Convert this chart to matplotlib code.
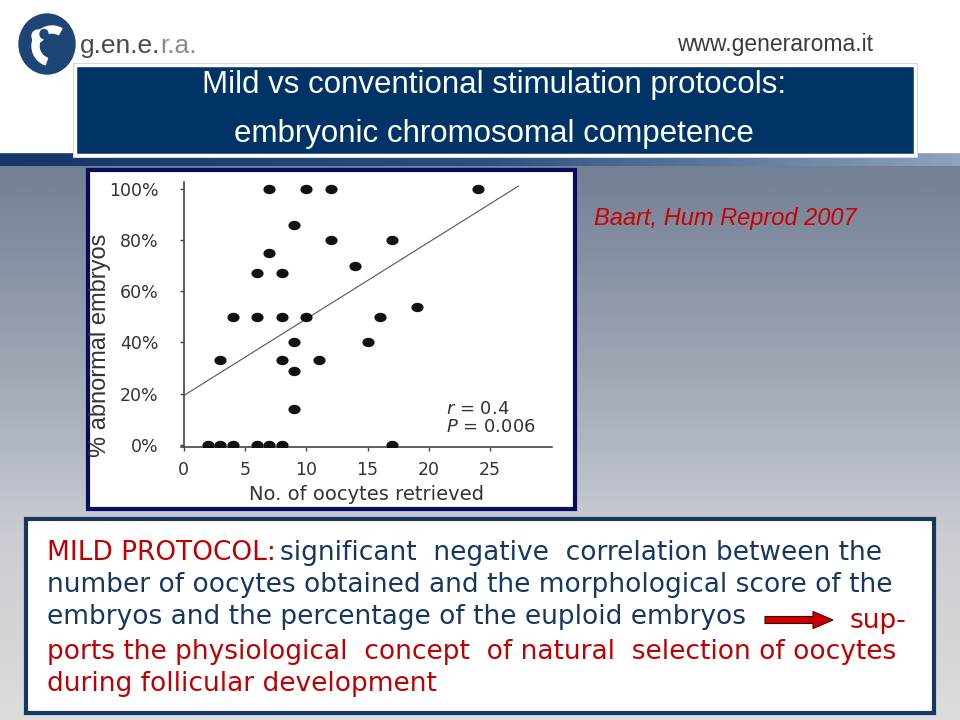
import numpy as np
import matplotlib.pyplot as plt
from matplotlib.patches import Rectangle, Ellipse, FancyArrow, Wedge
from matplotlib.path import Path
from matplotlib.colors import LinearSegmentedColormap

# data (Baart, Hum Reprod 2007)
oocytes = [7, 10, 12, 24, 9, 12, 17, 7, 14, 6, 8, 19, 4, 6, 8, 10, 16,
           9, 15, 3, 8, 11, 9, 9, 2, 3, 4, 6, 7, 8, 17]
abnormal = [100, 100, 100, 100, 86, 80, 80, 75, 70, 67, 67, 54, 50, 50, 50, 50, 50,
            40, 40, 33, 33, 33, 29, 14, 0, 0, 0, 0, 0, 0, 0]
fit_intercept = 19.2
fit_slope = 3.0
fit_x = [0, 27.3]
x_ticks = [0, 5, 10, 15, 20, 25]
y_ticks = [0, 20, 40, 60, 80, 100]
y_tick_labels = ['0%', '20%', '40%', '60%', '80%', '100%']

W, H = 960, 720
fig = plt.figure(figsize=(9.6, 7.2), dpi=100)

# background axes in pixel coordinates
bg = fig.add_axes([0, 0, 1, 1])
bg.set_xlim(0, W)
bg.set_ylim(H, 0)
bg.axis('off')

grad = LinearSegmentedColormap.from_list('bg', ['#727f94', '#9aa3b1', '#c9ccd2', '#dcdcdc'])
bg.imshow(np.linspace(0, 1, 256).reshape(-1, 1), cmap=grad, aspect='auto',
          extent=[0, W, H, 165], zorder=0)
band = LinearSegmentedColormap.from_list('band', ['#143668', '#2d4f7e', '#8ea3bd'])
bg.imshow(np.linspace(0, 1, 256).reshape(1, -1), cmap=band, aspect='auto',
          extent=[0, W, 166, 152], zorder=1)
bg.add_patch(Rectangle((0, 0), W, 152, color='white', zorder=1))

# logo
bg.add_patch(Ellipse((47, 44), 56, 60, color='#1d4576', zorder=3))
bg.add_patch(Wedge((52, 46), 20, 110, 300, width=7, color='white', zorder=4))
bg.add_patch(Ellipse((38, 36), 12, 12, color='white', zorder=4))
bg.add_patch(Ellipse((44, 34), 8, 9, color='#1d4576', zorder=5))
g1 = bg.text(80, 46, 'g.en.e.', fontsize=19, color='#4a4a4a', va='center', ha='left',
             family='Liberation Sans', zorder=4)
fig.canvas.draw()
gw = g1.get_window_extent().width
bg.text(80 + gw, 46, 'r.a.', fontsize=19, color='#8a8a8a', va='center', ha='left',
        family='Liberation Sans', zorder=4)
bg.text(873, 45, 'www.generaroma.it', fontsize=16.5, color='#3c3c3c', va='center', ha='right',
        family='Liberation Sans', zorder=4)

# title box
bg.add_patch(Rectangle((73, 63), 845, 95, facecolor='#c8ced8', edgecolor='none', zorder=2))
bg.add_patch(Rectangle((75, 65), 840, 90, facecolor='#003366', edgecolor='white', lw=2.5, zorder=3))
bg.text(494, 85, 'Mild vs conventional stimulation protocols:', fontsize=22.5, color='white',
        ha='center', va='center', family='Liberation Sans', zorder=4)
bg.text(494, 134, 'embryonic chromosomal competence', fontsize=22.5, color='white',
        ha='center', va='center', family='Liberation Sans', zorder=4)

# chart frame
bg.add_patch(Rectangle((88, 170), 487, 339, facecolor='white', edgecolor='#0a0a5c', lw=3, zorder=3))

bg.text(594, 218, 'Baart, Hum Reprod 2007', fontsize=17, color='#cc0000', style='italic',
        ha='left', va='center', family='Liberation Sans', zorder=4)

# bottom text box
bg.add_patch(Rectangle((26, 519), 908, 194, facecolor='white', edgecolor='#17375e', lw=3, zorder=3))
navy = '#17375e'
red = '#c00000'
tfont = dict(fontsize=19, family='DejaVu Sans', va='center', ha='left', zorder=4)
t = bg.text(47, 553, 'MILD PROTOCOL:', color=red, **tfont)
fig.canvas.draw()
bb = t.get_window_extent()
bg.text(47 + bb.width + 4, 553, 'significant  negative  correlation between the', color=navy, **tfont)
bg.text(47, 585, 'number of oocytes obtained and the morphological score of the', color=navy, **tfont)
bg.text(47, 617, 'embryos and the percentage of the euploid embryos', color=navy, **tfont)
bg.add_patch(FancyArrow(765, 620, 68, 0, width=7, head_width=17, head_length=20,
                        length_includes_head=True, facecolor='#cc0000', edgecolor='#400000',
                        lw=0.8, zorder=4))
bg.text(850, 621, 'sup-', color=red, **tfont)
bg.text(47, 652, 'ports the physiological  concept  of natural  selection of oocytes', color=red, **tfont)
bg.text(47, 684, 'during follicular development', color=red, **tfont)

# scatter axes
ax = fig.add_axes([181.2 / W, 1 - 447.3 / H, 370.3 / W, 265 / H], zorder=5)
ax.patch.set_alpha(0)
ellipse = Path(Path.unit_circle().vertices * [1.35, 1.0], Path.unit_circle().codes)
ax.scatter(oocytes, abnormal, s=60, marker=ellipse, color='#111111', zorder=3)
fx = np.array(fit_x)
ax.plot(fx, fit_intercept + fit_slope * fx, color='#555555', lw=0.8)
ax.set_xlim(-0.2, 30)
ax.set_ylim(-1, 102.6)
ax.spines['top'].set_visible(False)
ax.spines['right'].set_visible(False)
ax.spines['left'].set_position(('data', 0))
for s in ['left', 'bottom']:
    ax.spines[s].set_color('#444444')
    ax.spines[s].set_linewidth(1.2)
ax.set_xticks(x_ticks)
ax.set_yticks(y_ticks)
ax.set_yticklabels(y_tick_labels)
ax.tick_params(colors='#444444', labelcolor='#333333', labelsize=12.5, length=3, width=1)
ax.tick_params(axis='y', pad=15)
ax.tick_params(axis='x', pad=7)
for lab in ax.get_xticklabels() + ax.get_yticklabels():
    lab.set_family('DejaVu Sans')
ax.set_xlabel('No. of oocytes retrieved', fontsize=14, color='#333333',
              family='DejaVu Sans', labelpad=4)
ax.text(21.4, 14, '$r$ = 0.4', fontsize=13, color='#333333', family='DejaVu Sans', va='center')
ax.text(21.4, 6.9, '$P$ = 0.006', fontsize=13, color='#333333', family='DejaVu Sans', va='center')

bg.text(100, 345, '% abnormal embryos', fontsize=17, color='#333333', rotation=90,
        ha='center', va='center', family='Liberation Sans', zorder=6)

fig.savefig('out.png', dpi=100)
